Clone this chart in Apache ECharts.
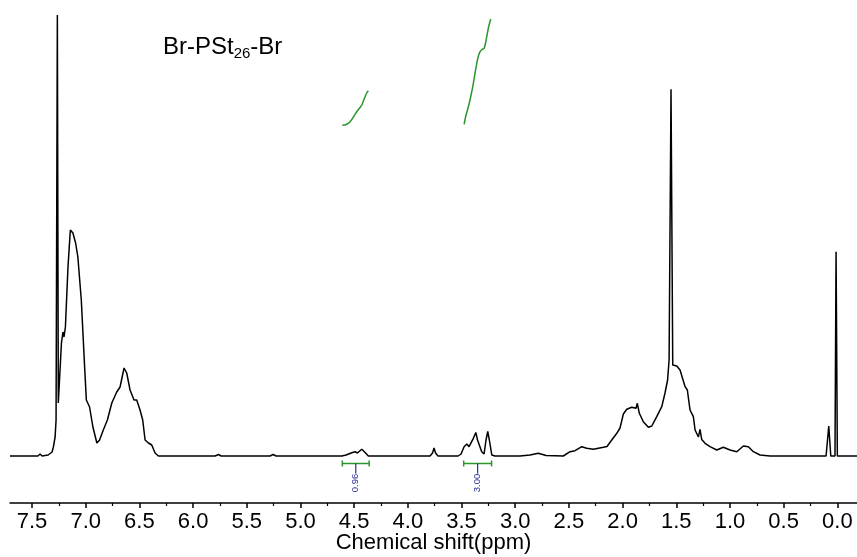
<!DOCTYPE html>
<html>
<head>
<meta charset="utf-8">
<title>Br-PSt26-Br 1H NMR</title>
<script src="https://cdn.jsdelivr.net/npm/echarts@6/dist/echarts.min.js"></script>
<style>
  html, body { margin: 0; padding: 0; background: #fff; }
  #chart { width: 857px; height: 557px; }
</style>
</head>
<body>
<div id="chart"></div>
<script>
// 1H NMR spectrum (CDCl3) of Br-PSt26-Br: chemical shift (ppm) and intensity (a.u.)
const shiftPpm = [
  7.705, 7.613, 7.529, 7.518, 7.510, 7.445, 7.425, 7.406, 7.350, 7.313,
  7.301, 7.285, 7.276, 7.264, 7.255, 7.226, 7.212, 7.202, 7.189, 7.165,
  7.143, 7.119, 7.094, 7.073, 7.041, 7.010, 6.994, 6.964, 6.933, 6.896,
  6.871, 6.836, 6.798, 6.757, 6.711, 6.680, 6.643, 6.618, 6.587, 6.550,
  6.525, 6.494, 6.469, 6.447, 6.416, 6.385, 6.354, 6.323, 6.214, 5.795,
  5.763, 5.739, 5.283, 5.255, 5.227, 4.678, 4.615, 4.575, 4.522, 4.491,
  4.470, 4.429, 4.405, 4.368, 3.886, 3.793, 3.770, 3.756, 3.742, 3.719,
  3.532, 3.504, 3.476, 3.451, 3.430, 3.390, 3.367, 3.351, 3.312, 3.290,
  3.272, 3.256, 3.241, 3.218, 3.188, 2.955, 2.862, 2.785, 2.713, 2.552,
  2.489, 2.443, 2.380, 2.334, 2.272, 2.179, 2.145, 2.101, 2.054, 2.024,
  1.993, 1.961, 1.915, 1.875, 1.863, 1.844, 1.807, 1.760, 1.728, 1.682,
  1.635, 1.605, 1.581, 1.567, 1.549, 1.533, 1.496, 1.465, 1.449, 1.418,
  1.397, 1.372, 1.341, 1.325, 1.294, 1.279, 1.263, 1.232, 1.186, 1.123,
  1.062, 0.999, 0.937, 0.875, 0.829, 0.782, 0.720, 0.627, 0.105, 0.080,
  0.061, 0.022, 0.012, 0.000, -0.183
];
const intensity = [
  0, 0, 0, 1.5, 0, 0, 2, 0, 1, 4,
  9, 19, 36, 441, 53, 113, 124, 119, 129, 189,
  226, 223, 213, 199, 156, 89, 56, 49, 29, 13,
  16, 26, 36, 53, 64, 69, 88, 83, 66, 56,
  56, 46, 36, 16, 13, 11, 3, 0, 0, 0,
  1.5, 0, 0, 1.5, 0, 0, 0, 1, 3.3, 4.3,
  3, 6.7, 4.3, 0, 0, 0, 3, 8, 3, 0,
  0, 2, 9.3, 12, 9.3, 17.7, 23.5, 16, 4.3, 2,
  16, 24.5, 16, 1, 0, 0, 1, 2.7, 0.5, 0,
  4.3, 5.3, 9.3, 7.7, 6.7, 8.7, 9.5, 16, 22.7, 28,
  42, 46.7, 48.7, 47.7, 52.7, 42.7, 34.3, 28.7, 30, 39.3,
  49.3, 63, 76, 96, 366.7, 91, 90, 86, 84.3, 69.3,
  66, 46, 39.3, 26, 19, 26.7, 16.5, 12.7, 9.3, 6,
  8.7, 6, 4.3, 10, 9.3, 4.3, 1, 0, 0, 30,
  0, 0, 204.3, 0, 0
];

// Integral traces (running integral) over the two integrated regions
const integralShiftA = [4.610, 4.575, 4.538, 4.507, 4.476, 4.445, 4.429, 4.414, 4.398, 4.383, 4.368];
const integralCurveA = [330.7, 331.5, 334.3, 339, 344.3, 348.5, 351, 355, 359.3, 363, 365.3];
const integralShiftB = [3.476, 3.458, 3.436, 3.411, 3.390, 3.374, 3.358, 3.343, 3.327, 3.309, 3.290, 3.276, 3.265, 3.248, 3.228];
const integralCurveB = [331.7, 341, 349.3, 361, 372.7, 383, 392.7, 400, 404.3, 406.5, 407.7, 413, 419.3, 429, 437];

// Integrated ranges (ppm, from high to low) and their relative areas
const integralFrom = [4.61, 3.48];
const integralTo = [4.36, 3.22];
const integralArea = [0.96, 3.00];

// Axis ticks
const tickValues = [7.5, 7.0, 6.5, 6.0, 5.5, 5.0, 4.5, 4.0, 3.5, 3.0, 2.5, 2.0, 1.5, 1.0, 0.5, 0.0];
const tickLabels = ['7.5', '7.0', '6.5', '6.0', '5.5', '5.0', '4.5', '4.0', '3.5', '3.0', '2.5', '2.0', '1.5', '1.0', '0.5', '0.0'];
const minorTickValues = [7.25, 6.75, 6.25, 5.75, 5.25, 4.75, 4.25, 3.75, 3.25, 2.75, 2.25, 1.75, 1.25, 0.75, 0.25];

const X_MIN = -0.183, X_MAX = 7.705;
const FONT = '"Liberation Sans", Arial, sans-serif';
const GREEN = '#2b962b';
const BLUE = '#2c2c9c';

const zip = (xs, ys) => xs.map((x, i) => [x, ys[i]]);
const labelFor = v => {
  const i = tickValues.findIndex(t => Math.abs(t - v) < 1e-6);
  return i >= 0 ? tickLabels[i] : '';
};

const chart = echarts.init(document.getElementById('chart'), null, { renderer: 'canvas' });

const option = {
  animation: false,
  backgroundColor: '#ffffff',
  title: {
    text: '{m|Br-PSt}{s|26}{m|-Br}',
    left: 158,
    top: 29,
    textStyle: {
      fontWeight: 'normal',
      rich: {
        m: { fontFamily: FONT, fontSize: 24, fontWeight: 'normal', color: '#000', lineHeight: 27 },
        s: { fontFamily: FONT, fontSize: 15, fontWeight: 'normal', color: '#000', lineHeight: 27, verticalAlign: 'bottom', padding: [9, 0, 0, 0] }
      }
    }
  },
  grid: { left: 10, right: 0, top: 15, bottom: 54, containLabel: false, outerBoundsMode: 'none' },
  xAxis: [
    {
      type: 'value',
      inverse: true,
      min: X_MIN,
      max: X_MAX,
      position: 'bottom',
      axisLine: { show: true, onZero: false, lineStyle: { color: '#000', width: 1.5 } },
      axisTick: { show: true, length: 5, customValues: tickValues, lineStyle: { color: '#000', width: 1.5 } },
      axisLabel: {
        customValues: tickValues,
        formatter: labelFor,
        margin: 8,
        fontSize: 22,
        fontFamily: FONT,
        color: '#000'
      },
      splitLine: { show: false },
      name: 'Chemical shift(ppm)',
      nameLocation: 'middle',
      nameGap: 29,
      nameMoveOverlap: false,
      nameTextStyle: { fontSize: 22, fontFamily: FONT, color: '#000' }
    },
    {
      type: 'value',
      inverse: true,
      min: X_MIN,
      max: X_MAX,
      position: 'bottom',
      axisLine: { show: false, onZero: false },
      axisTick: { show: true, length: 3, customValues: minorTickValues, lineStyle: { color: '#000', width: 1.2 } },
      axisLabel: { show: false },
      splitLine: { show: false }
    }
  ],
  yAxis: { type: 'value', min: -47, max: 441, show: false },
  series: [
    {
      name: 'spectrum',
      type: 'line',
      data: zip(shiftPpm, intensity),
      showSymbol: false,
      symbol: 'none',
      lineStyle: { color: '#000', width: 1.5 },
      z: 3
    },
    {
      name: 'integral A',
      type: 'line',
      data: zip(integralShiftA, integralCurveA),
      showSymbol: false,
      symbol: 'none',
      smooth: 0.3,
      lineStyle: { color: GREEN, width: 1.5 }
    },
    {
      name: 'integral B',
      type: 'line',
      data: zip(integralShiftB, integralCurveB),
      showSymbol: false,
      symbol: 'none',
      smooth: 0.3,
      lineStyle: { color: GREEN, width: 1.5 }
    },
    {
      name: 'integral brackets',
      type: 'custom',
      data: integralFrom.map((f, i) => [f, integralTo[i], integralArea[i]]),
      encode: { x: [0, 1] },
      renderItem: (params, api) => {
        const p1 = api.coord([api.value(0), 0]);
        const p2 = api.coord([api.value(1), 0]);
        const y = p1[1] + 7.5;
        const mid = (p1[0] + p2[0]) / 2;
        const green = { stroke: GREEN, lineWidth: 1.5 };
        return {
          type: 'group',
          children: [
            { type: 'line', shape: { x1: p1[0], y1: y, x2: p2[0], y2: y }, style: green },
            { type: 'line', shape: { x1: p1[0], y1: y - 3, x2: p1[0], y2: y + 3 }, style: green },
            { type: 'line', shape: { x1: p2[0], y1: y - 3, x2: p2[0], y2: y + 3 }, style: green },
            { type: 'line', shape: { x1: mid, y1: y, x2: mid, y2: y + 10 }, style: { stroke: BLUE, lineWidth: 1.2 } },
            {
              type: 'text',
              x: mid,
              y: y + 19.5,
              rotation: Math.PI / 2,
              style: {
                text: api.value(2).toFixed(2),
                fill: BLUE,
                font: '9.5px ' + FONT,
                align: 'center',
                verticalAlign: 'middle'
              }
            }
          ]
        };
      }
    }
  ]
};

chart.setOption(option);
</script>
</body>
</html>
